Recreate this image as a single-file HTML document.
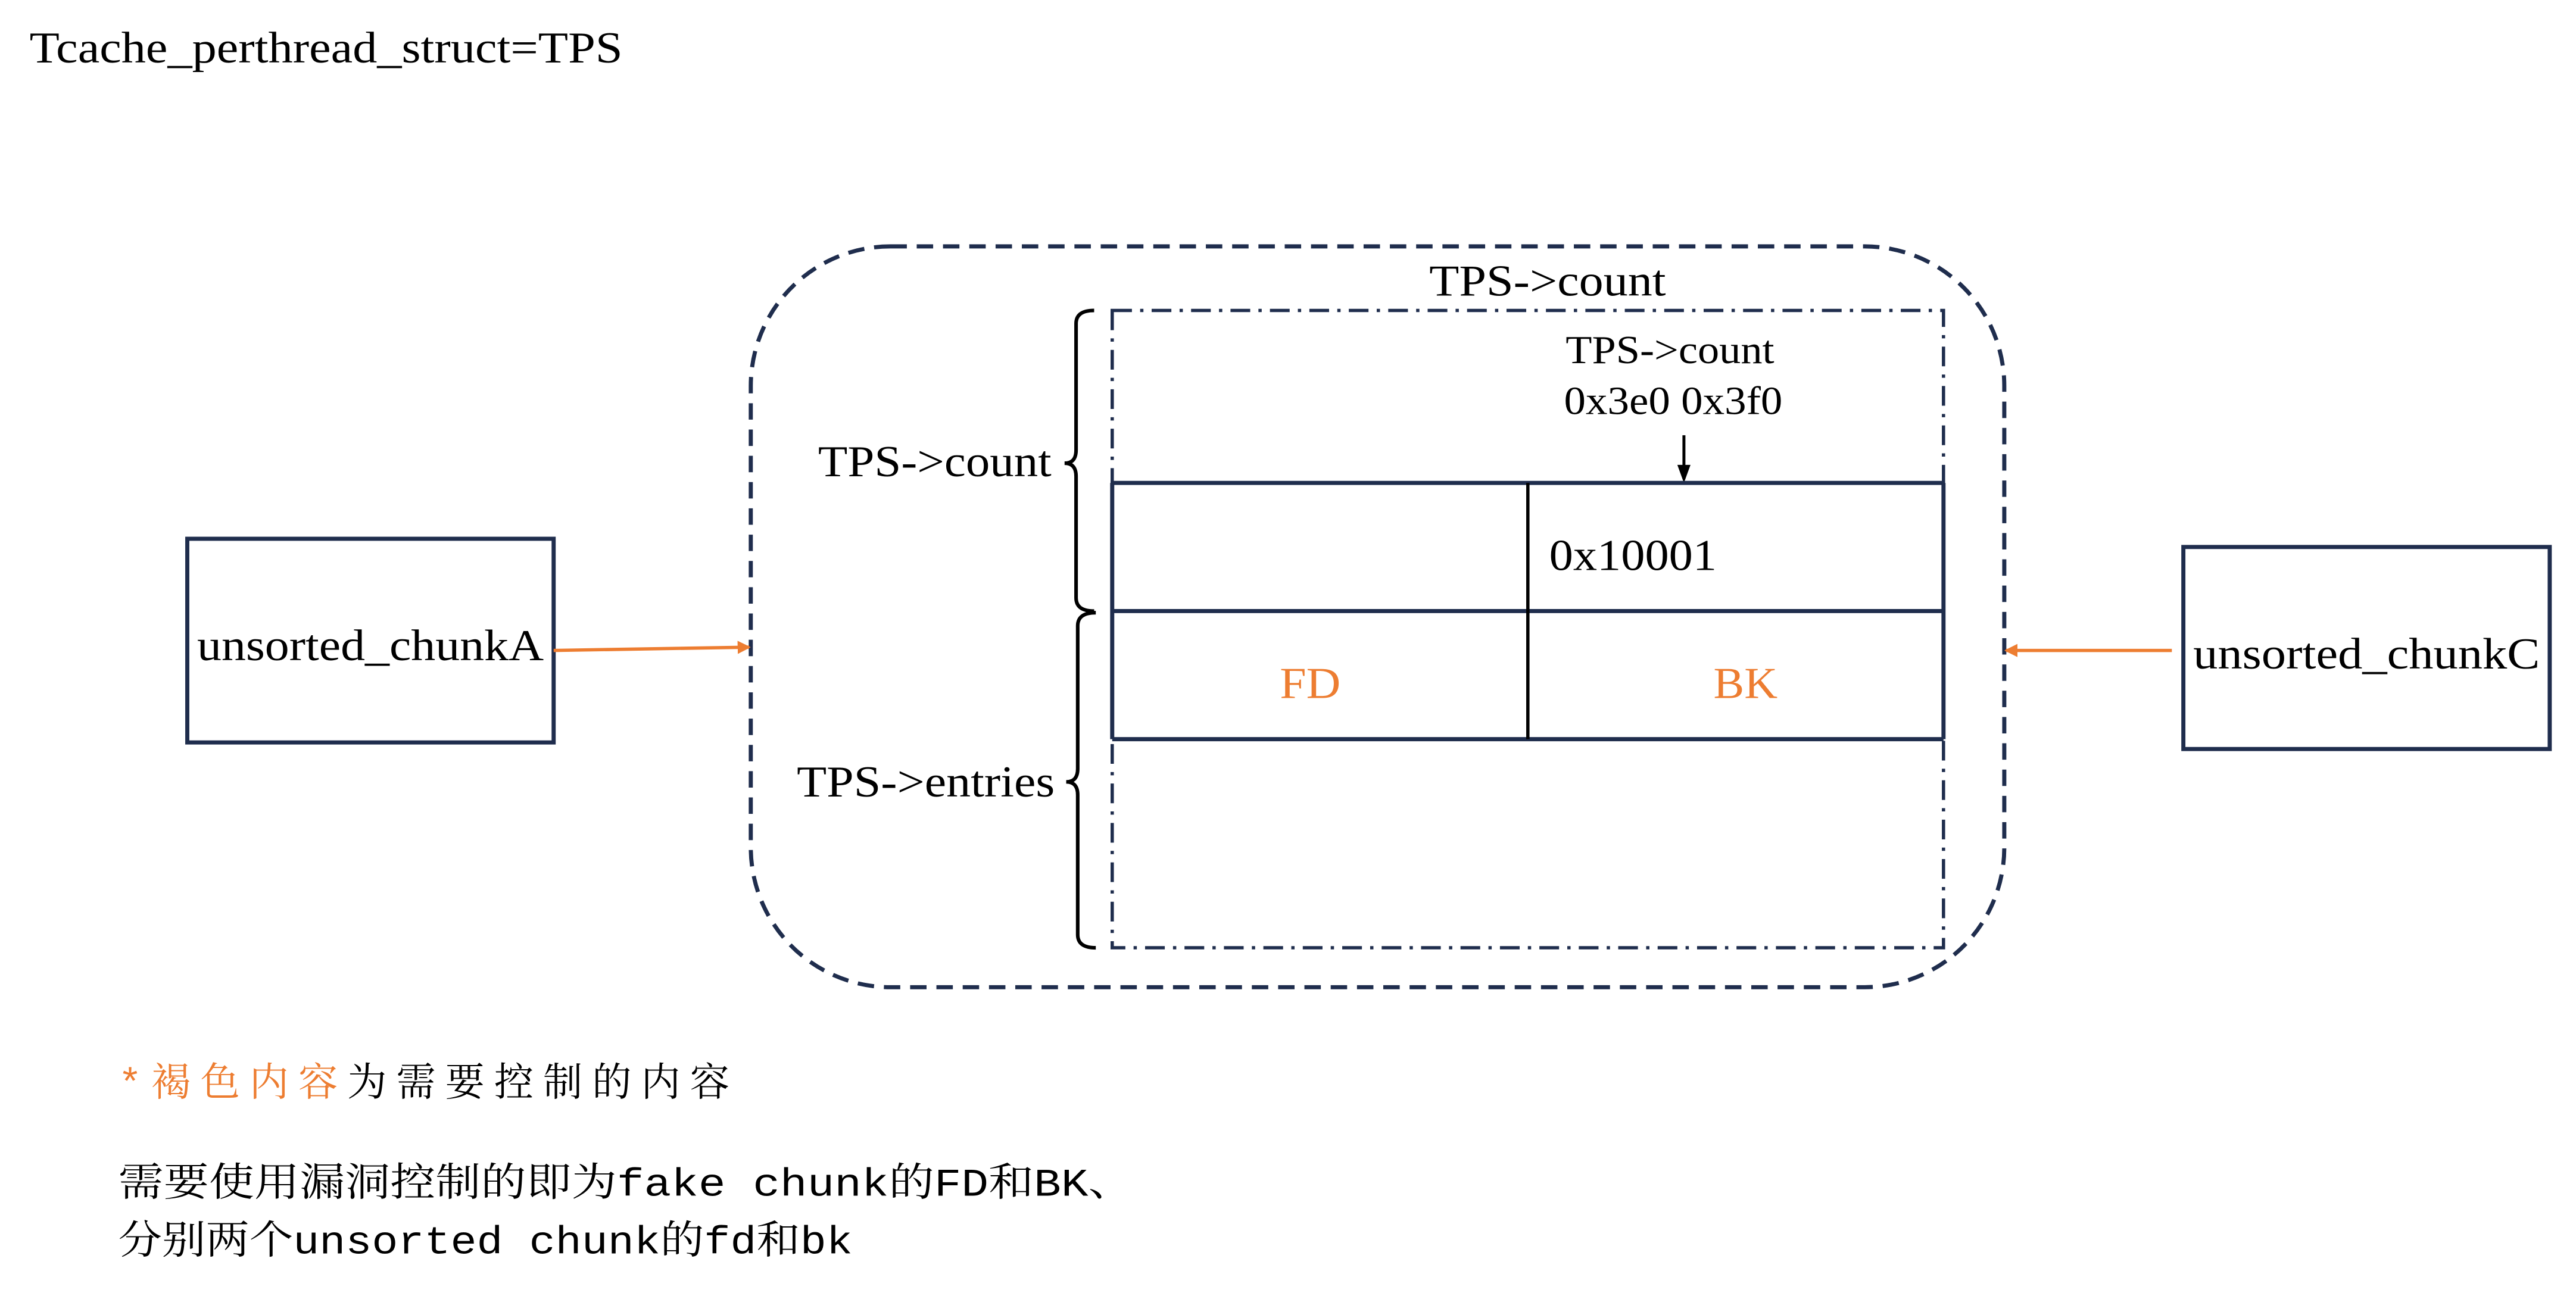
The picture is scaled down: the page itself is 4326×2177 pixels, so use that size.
<!DOCTYPE html>
<html><head><meta charset="utf-8"><style>html,body{margin:0;padding:0;background:#fff}svg{display:block}</style></head>
<body>
<svg width="4326" height="2177" viewBox="0 0 1568 789" preserveAspectRatio="none" xmlns="http://www.w3.org/2000/svg">
<defs>
<marker id="ao" markerWidth="8" markerHeight="8" refX="7" refY="4" orient="auto" markerUnits="userSpaceOnUse"><path d="M0,0 L8,4 L0,8 z" fill="#ed7d31"/></marker>
</defs>
<g font-family="'Liberation Serif','Noto Serif CJK SC',serif" font-size="27" fill="#000" lengthAdjust="spacingAndGlyphs">
<text x="18" y="38" textLength="361" lengthAdjust="spacingAndGlyphs">Tcache_perthread_struct=TPS</text>
<rect x="457" y="150" width="763" height="451" rx="85" ry="85" fill="none" stroke="#1f2d4d" stroke-width="2.5" stroke-dasharray="10 6"/>
<text x="870" y="180" textLength="144" lengthAdjust="spacingAndGlyphs">TPS-&gt;count</text>
<rect x="677" y="189" width="506" height="388" fill="none" stroke="#1f2d4d" stroke-width="2" stroke-dasharray="12 5 2 5"/>
<text x="953" y="221" font-size="24" textLength="127" lengthAdjust="spacingAndGlyphs">TPS-&gt;count</text>
<text x="952" y="252" font-size="24" textLength="133" lengthAdjust="spacingAndGlyphs">0x3e0 0x3f0</text>
<line x1="1025" y1="265" x2="1025" y2="285" stroke="#000" stroke-width="1.8"/>
<path d="M1021,283 L1025,294 L1029,283 z" fill="#000"/>
<line x1="677" y1="294" x2="1183" y2="294" stroke="#1f2d4d" stroke-width="2.5"/>
<line x1="677" y1="372" x2="1183" y2="372" stroke="#1f2d4d" stroke-width="2.5"/>
<line x1="677" y1="450" x2="1183" y2="450" stroke="#1f2d4d" stroke-width="2.5"/>
<line x1="677" y1="294" x2="677" y2="450" stroke="#1f2d4d" stroke-width="2.5"/>
<line x1="1183" y1="294" x2="1183" y2="450" stroke="#1f2d4d" stroke-width="2.5"/>
<line x1="930" y1="294" x2="930" y2="450" stroke="#000" stroke-width="2"/>
<text x="943" y="347" textLength="102" lengthAdjust="spacingAndGlyphs">0x10001</text>
<text x="779" y="425" fill="#ed7d31" textLength="37" lengthAdjust="spacingAndGlyphs">FD</text>
<text x="1043" y="425" fill="#ed7d31" textLength="39" lengthAdjust="spacingAndGlyphs">BK</text>
<path d="M666,189 Q655,189 655,197 L655,274 Q655,282 648,282 Q655,282 655,290 L655,364 Q655,372 666,372" fill="none" stroke="#000" stroke-width="2.2"/>
<path d="M667,373 Q656,373 656,381 L656,468 Q656,476 649,476 Q656,476 656,484 L656,569 Q656,577 667,577" fill="none" stroke="#000" stroke-width="2.2"/>
<text x="498" y="290" textLength="142" lengthAdjust="spacingAndGlyphs">TPS-&gt;count</text>
<text x="485" y="485" textLength="157" lengthAdjust="spacingAndGlyphs">TPS-&gt;entries</text>
<rect x="114" y="328" width="223" height="124" fill="none" stroke="#1f2d4d" stroke-width="2.5"/>
<text x="120" y="402" textLength="211" lengthAdjust="spacingAndGlyphs">unsorted_chunkA</text>
<line x1="337" y1="396" x2="456" y2="394" stroke="#ed7d31" stroke-width="2" marker-end="url(#ao)"/>
<rect x="1329" y="333" width="223" height="123" fill="none" stroke="#1f2d4d" stroke-width="2.5"/>
<text x="1335" y="407" textLength="211" lengthAdjust="spacingAndGlyphs">unsorted_chunkC</text>
<line x1="1322" y1="396" x2="1221" y2="396" stroke="#ed7d31" stroke-width="2" marker-end="url(#ao)"/>
</g>
<g font-family="'Liberation Mono','Noto Serif CJK SC',monospace" font-size="24">
<text x="72" y="667" textLength="372" lengthAdjust="spacing"><tspan fill="#ed7d31">*褐色内容</tspan><tspan fill="#000">为需要控制的内容</tspan></text>
<text x="72" y="728" fill="#000" textLength="618" lengthAdjust="spacingAndGlyphs">需要使用漏洞控制的即为fake chunk的FD和BK、</text>
<text x="72" y="763" fill="#000" textLength="447" lengthAdjust="spacingAndGlyphs">分别两个unsorted chunk的fd和bk</text>
</g>
</svg>
</body></html>
